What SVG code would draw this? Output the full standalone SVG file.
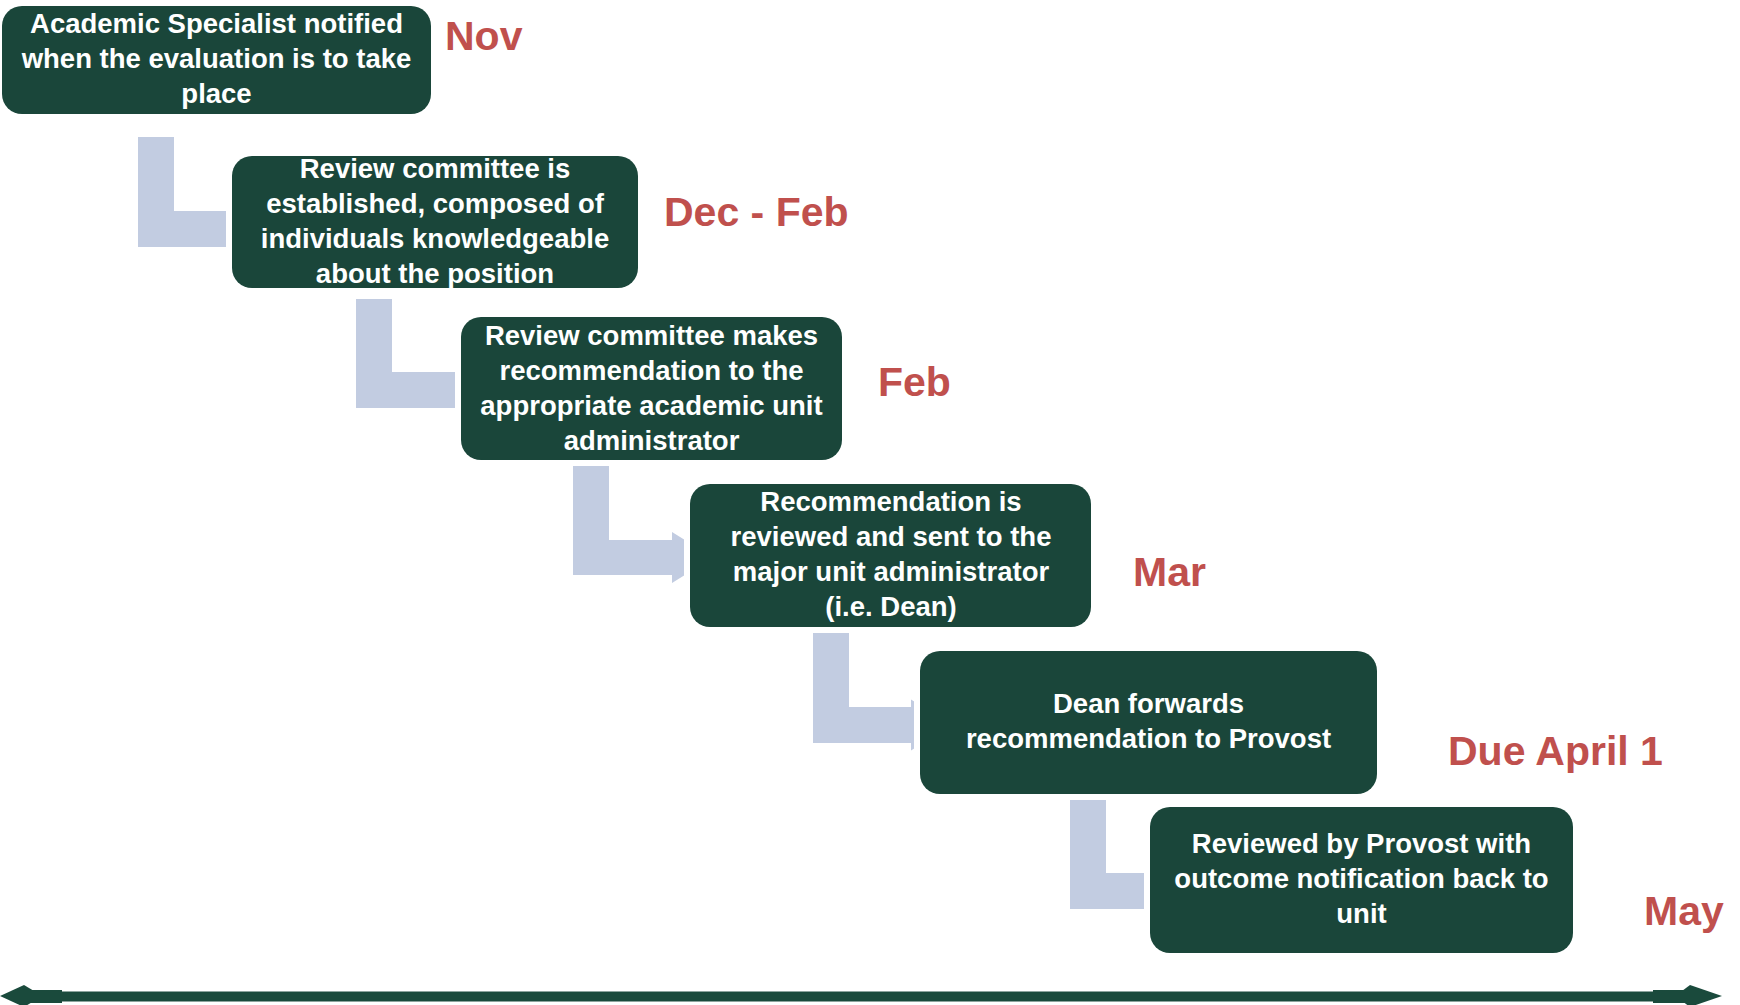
<svg xmlns="http://www.w3.org/2000/svg" width="1740" height="1005" viewBox="0 0 1740 1005">
<style>
.box{fill:#1A463A;stroke:#FFFFFF;stroke-width:12;paint-order:stroke fill}
.t{font-family:"Liberation Sans",Arial,sans-serif;font-weight:bold;font-size:27.5px;fill:#FFFFFF;text-anchor:middle}
.d{font-family:"Liberation Sans",Arial,sans-serif;font-weight:bold;font-size:41px;fill:#C0504D}
.c{fill:#C2CCE1}
.tl{fill:#1A4A3C}
</style>
<rect width="1740" height="1005" fill="#FFFFFF"/>
<g id="connectors">
<path class="c" d="M138,137 H174 V211 H227 V203.5 L268,229 L227,254.5 V247 H138 Z"/>
<path class="c" d="M356,299 H392 V372 H455 V364.5 L496,390 L455,415.5 V408 H356 Z"/>
<path class="c" d="M573,466 H609 V540 H672 V532 L713,557.5 L672,583 V575 H573 Z"/>
<path class="c" d="M813,633 H849 V707 H911 V699.5 L952,725 L911,750.5 V743 H813 Z"/>
<path class="c" d="M1070,800 H1106 V873 H1145 V865.5 L1186,891 L1145,916.5 V909 H1070 Z"/>
</g>
<g id="node1">
<rect class="box" x="2" y="6" width="429" height="108" rx="20"/>
<text class="t" x="216.5" y="33">Academic Specialist notified</text>
<text class="t" x="216.5" y="68">when the evaluation is to take</text>
<text class="t" x="216.5" y="103">place</text>
</g>
<g id="node2">
<rect class="box" x="232" y="156" width="406" height="132" rx="20"/>
<text class="t" x="435" y="178">Review committee is</text>
<text class="t" x="435" y="213">established, composed of</text>
<text class="t" x="435" y="248">individuals knowledgeable</text>
<text class="t" x="435" y="283">about the position</text>
</g>
<g id="node3">
<rect class="box" x="461" y="317" width="381" height="143" rx="20"/>
<text class="t" x="651.5" y="345">Review committee makes</text>
<text class="t" x="651.5" y="380">recommendation to the</text>
<text class="t" x="651.5" y="415">appropriate academic unit</text>
<text class="t" x="651.5" y="450">administrator</text>
</g>
<g id="node4">
<rect class="box" x="690" y="484" width="401" height="143" rx="20"/>
<text class="t" x="891" y="511">Recommendation is</text>
<text class="t" x="891" y="546">reviewed and sent to the</text>
<text class="t" x="891" y="581">major unit administrator</text>
<text class="t" x="891" y="616">(i.e. Dean)</text>
</g>
<g id="node5">
<rect class="box" x="920" y="651" width="457" height="143" rx="20"/>
<text class="t" x="1148.5" y="713">Dean forwards</text>
<text class="t" x="1148.5" y="748">recommendation to Provost</text>
</g>
<g id="node6">
<rect class="box" x="1150" y="807" width="423" height="146" rx="20"/>
<text class="t" x="1361.5" y="853">Reviewed by Provost with</text>
<text class="t" x="1361.5" y="888">outcome notification back to</text>
<text class="t" x="1361.5" y="923">unit</text>
</g>
<g id="dates">
<text class="d" x="445" y="50">Nov</text>
<text class="d" x="664" y="226">Dec - Feb</text>
<text class="d" x="878" y="396">Feb</text>
<text class="d" x="1133" y="586">Mar</text>
<text class="d" x="1448" y="765">Due April 1</text>
<text class="d" x="1644" y="925">May</text>
</g>
<g id="timeline">
<rect class="tl" x="20" y="991.5" width="1680" height="10"/>
<rect class="tl" x="30" y="990" width="32" height="13"/>
<rect class="tl" x="1653" y="990" width="37" height="13"/>
<path class="tl" d="M0,996 L24,985 L34,991 V1001 L24,1007 Z"/>
<path class="tl" d="M1722,996 L1690,985 L1682,991 V1001 L1690,1007 Z"/>
</g>
</svg>
